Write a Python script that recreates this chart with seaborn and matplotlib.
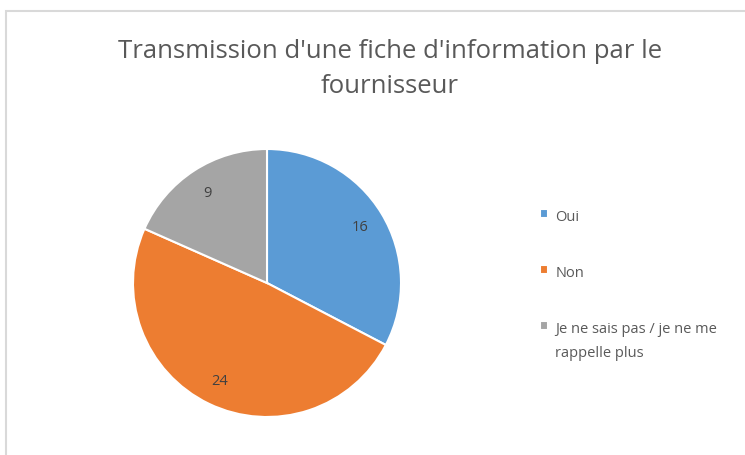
import textwrap
import matplotlib
matplotlib.use("Agg")
import matplotlib.pyplot as plt
from matplotlib.patches import Rectangle
import seaborn as sns

categories = ["Oui", "Non", "Je ne sais pas / je ne me rappelle plus"]
values = [16, 24, 9]
colors = ["#5B9BD5", "#ED7D31", "#A5A5A5"]
title = "Transmission d'une fiche d'information par le\nfournisseur"

sns.set_theme(style="white")
plt.rcParams["font.family"] = ["Open Sans", "DejaVu Sans"]

fig = plt.figure(figsize=(7.45, 4.56), dpi=100)
fig.patch.set_facecolor("white")

# chart border
fig.patches.append(Rectangle((6 / 745, -0.05), 1.0, 1 - 12 / 456 + 0.05,
                             transform=fig.transFigure, fill=False,
                             edgecolor="#D9D9D9", linewidth=1.5))

ax = fig.add_axes([133 / 745, 38 / 456, 268 / 745, 268 / 456])
wedges, texts, autotexts = ax.pie(
    values, colors=colors, startangle=90, counterclock=False,
    autopct=lambda p: f"{round(p * sum(values) / 100):d}",
    pctdistance=0.81,
    wedgeprops=dict(edgecolor="white", linewidth=1.5),
    textprops=dict(color="#404040", fontsize=10.5),
)
ax.set_xlim(-1.0, 1.0)
ax.set_ylim(-1.0, 1.0)
ax.set_aspect("equal")

fig.text(390 / 745, 1 - 69 / 456, title, ha="center", va="center",
         fontsize=18.5, color="#595959", linespacing=1.55)

labels = [textwrap.fill(c, 25) for c in categories]
leg = fig.legend(wedges, labels, loc="upper left",
                 bbox_to_anchor=(527 / 745, 1 - 197 / 456),
                 frameon=False, fontsize=10.5, labelcolor="#595959",
                 handlelength=0.55, handleheight=0.55, handletextpad=0.5,
                 labelspacing=2.8)
for t in leg.get_texts():
    t.set_linespacing(1.8)
# align legend markers with the first line of multi-line labels
try:
    for col in leg._legend_handle_box.get_children():
        for row in col.get_children():
            row.align = "top"
except Exception:
    pass

fig.savefig("out.png", dpi=100, facecolor="white")
